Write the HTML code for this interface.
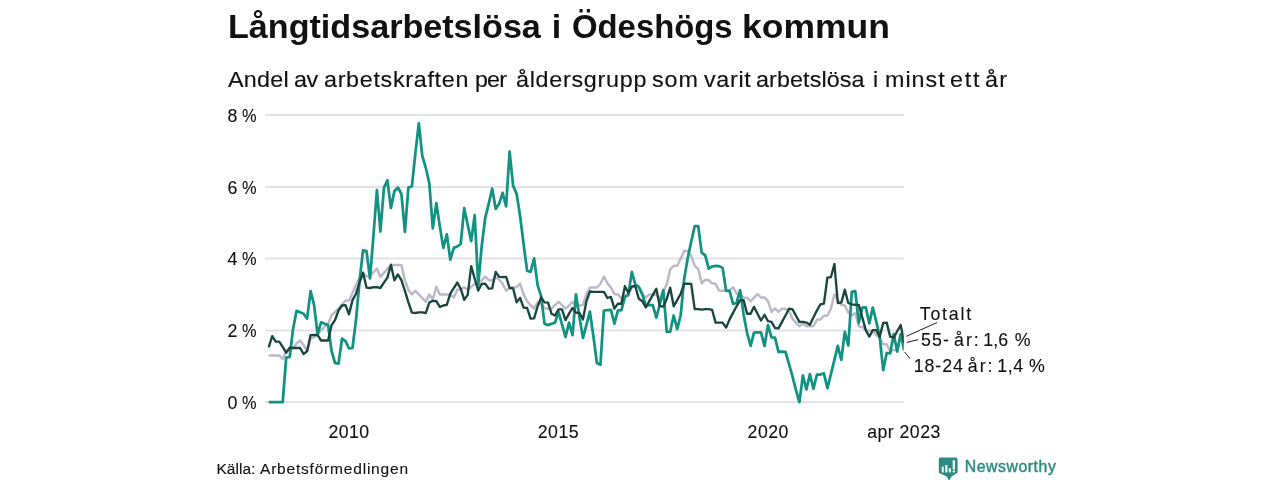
<!DOCTYPE html>
<html><head><meta charset="utf-8">
<style>
html,body{margin:0;padding:0;background:#fff;}
body{width:1280px;height:480px;position:relative;overflow:hidden;font-family:"Liberation Sans",sans-serif;color:#111;}
.t{position:absolute;white-space:nowrap;line-height:1;}
#txt{position:absolute;left:0;top:0;width:1280px;height:480px;will-change:transform;}
.ti{top:9px;font-size:34px;font-weight:bold;transform-origin:0 0;}
.su{top:69px;font-size:22px;transform:scaleX(1.06);transform-origin:0 0;-webkit-text-stroke:0.15px #111;}
.yl{font-size:17.8px;left:227.6px;-webkit-text-stroke:0.12px #111;}
.pc{display:inline-block;transform:scaleX(0.92);transform-origin:0 50%;margin-left:-0.6px;}
.xl{-webkit-text-stroke:0.12px #111;font-size:17.7px;letter-spacing:0.45px;transform:translateX(-50%);top:424px;}
.sr{top:461px;font-size:15.5px;-webkit-text-stroke:0.12px #111;}
.an{font-size:17.8px;-webkit-text-stroke:0.12px #111;}
svg{position:absolute;left:0;top:0;}
</style></head><body>
<svg width="1280" height="480" viewBox="0 0 1280 480">
<g stroke="#e3e2e8" stroke-width="2">
<line x1="265.2" x2="903.8" y1="115" y2="115"/>
<line x1="265.2" x2="903.8" y1="186.9" y2="186.9"/>
<line x1="265.2" x2="903.8" y1="258.6" y2="258.6"/>
<line x1="265.2" x2="903.8" y1="330.4" y2="330.4"/>
<line x1="265.2" x2="903.8" y1="402.1" y2="402.1"/>
</g>
<svg x="265" y="100" width="638.8" height="320" viewBox="265 100 638.8 320" overflow="hidden"><g fill="none" stroke-linejoin="round" stroke-linecap="butt">
<polyline stroke="#bdb9ca" stroke-width="2.5" points="268.7,355.5 272.2,355.5 275.7,355.5 279.2,355.5 282.7,359.1 286.2,351.2 289.7,350.2 293.1,347.7 296.6,343.7 300.1,340.5 303.6,345.2 307.1,351.2 310.6,338.4 314.1,337.3 317.6,334.1 321.1,330.5 324.6,326.9 328.1,323.7 331.6,315.5 335.0,311.9 338.5,308.7 342.0,304.4 345.5,300.5 349.0,300.5 352.5,293.0 356.0,285.1 359.5,277.9 363.0,273.3 366.5,276.2 370.0,276.2 373.5,271.9 376.9,268.7 380.4,276.9 383.9,272.9 387.4,268.7 390.9,265.4 394.4,265.1 397.9,265.1 401.4,265.1 404.9,280.4 408.4,289.7 411.9,294.4 415.4,290.8 418.8,294.4 422.3,298.0 425.8,301.9 429.3,294.4 432.8,299.4 436.3,286.9 439.8,294.4 443.3,294.4 446.8,294.4 450.3,294.8 453.8,297.6 457.3,289.4 460.7,289.7 464.2,287.2 467.7,289.4 471.2,286.9 474.7,283.7 478.2,284.0 481.7,280.4 485.2,276.5 488.7,280.1 492.2,280.4 495.7,276.9 499.2,279.7 502.6,283.7 506.1,290.8 509.6,288.0 513.1,287.2 516.6,287.2 520.1,283.7 523.6,294.4 527.1,301.2 530.6,305.1 534.1,308.7 537.6,302.3 541.1,303.7 544.5,308.3 548.0,308.7 551.5,308.7 555.0,305.1 558.5,301.9 562.0,305.1 565.5,308.7 569.0,305.5 572.5,301.9 576.0,305.5 579.5,305.5 583.0,305.1 586.4,294.4 589.9,287.6 593.4,287.6 596.9,287.6 600.4,284.0 603.9,276.5 607.4,283.3 610.9,287.6 614.4,294.0 617.9,294.4 621.4,298.3 624.9,294.8 628.3,294.8 631.8,287.6 635.3,285.1 638.8,287.6 642.3,294.4 645.8,297.6 649.3,294.4 652.8,294.4 656.3,294.8 659.8,298.3 663.3,291.2 666.8,284.4 670.2,269.4 673.7,265.8 677.2,265.8 680.7,258.6 684.2,251.1 687.7,251.1 691.2,255.8 694.7,265.8 698.2,269.0 701.7,283.3 705.2,279.7 708.7,280.1 712.1,283.3 715.6,283.7 719.1,290.8 722.6,290.8 726.1,290.8 729.6,290.1 733.1,287.2 736.6,293.7 740.1,294.0 743.6,297.6 747.1,298.0 750.6,301.2 754.0,297.6 757.5,294.0 761.0,297.6 764.5,297.6 768.0,301.2 771.5,311.9 775.0,308.3 778.5,311.9 782.0,308.7 785.5,308.7 789.0,310.8 792.5,318.7 795.9,322.6 799.4,326.2 802.9,323.4 806.4,326.2 809.9,326.2 813.4,326.2 816.9,319.8 820.4,319.4 823.9,315.8 827.4,315.5 830.9,308.7 834.4,294.4 837.8,300.1 841.3,304.8 844.8,305.5 848.3,312.6 851.8,315.5 855.3,313.0 858.8,326.2 862.3,326.9 865.8,330.5 869.3,330.5 872.8,331.2 876.3,334.8 879.7,338.0 883.2,344.1 886.7,344.4 890.2,351.2 893.7,349.8 897.2,350.9 900.7,334.1 904.2,344.8"/>
<polyline stroke="#129283" stroke-width="2.75" points="268.7,402.2 272.2,402.2 275.7,402.2 279.2,402.2 282.7,402.2 286.2,357.7 289.7,357.0 293.1,328.7 296.6,310.8 300.1,312.3 303.6,313.7 307.1,318.7 310.6,291.2 314.1,305.1 317.6,334.4 321.1,322.3 324.6,323.7 328.1,325.1 331.6,351.2 335.0,363.0 338.5,363.7 342.0,338.7 345.5,341.2 349.0,348.4 352.5,348.0 356.0,319.8 359.5,281.9 363.0,250.4 366.5,251.1 370.0,278.3 373.5,235.0 376.9,190.0 380.4,231.5 383.9,187.9 387.4,180.3 390.9,207.9 394.4,191.1 397.9,187.5 401.4,193.9 404.9,231.8 408.4,187.5 411.9,186.4 415.4,152.8 418.8,123.3 422.3,156.0 425.8,167.8 429.3,183.2 432.8,228.3 436.3,203.2 439.8,226.1 443.3,247.9 446.8,234.3 450.3,259.7 453.8,247.9 457.3,246.5 460.7,244.0 464.2,208.2 467.7,224.7 471.2,241.1 474.7,215.0 478.2,285.1 481.7,246.1 485.2,217.9 488.7,203.9 492.2,188.6 495.7,208.9 499.2,203.6 502.6,192.9 506.1,206.4 509.6,151.6 513.1,185.7 516.6,193.9 520.1,216.1 523.6,244.0 527.1,270.8 530.6,271.9 534.1,258.3 537.6,285.1 541.1,296.2 544.5,323.7 548.0,325.1 551.5,323.7 555.0,322.6 558.5,311.9 562.0,324.4 565.5,336.9 569.0,322.6 572.5,335.1 576.0,294.4 579.5,317.6 583.0,338.0 586.4,324.8 589.9,311.6 593.4,336.2 596.9,363.0 600.4,364.8 603.9,310.5 607.4,310.1 610.9,309.8 614.4,323.7 617.9,310.5 621.4,310.1 624.9,296.9 628.3,295.1 631.8,271.9 635.3,284.4 638.8,286.9 642.3,294.4 645.8,305.5 649.3,305.1 652.8,305.1 656.3,317.6 659.8,304.4 663.3,290.1 666.8,331.9 670.2,331.6 673.7,315.5 677.2,329.1 680.7,315.1 684.2,278.7 687.7,258.3 691.2,241.8 694.7,226.1 698.2,226.1 701.7,252.6 705.2,255.4 708.7,268.7 712.1,266.5 715.6,265.8 719.1,266.1 722.6,267.9 726.1,290.8 729.6,290.8 733.1,304.0 736.6,302.6 740.1,290.1 743.6,314.4 747.1,333.0 750.6,345.9 754.0,332.6 757.5,332.3 761.0,332.3 764.5,345.9 768.0,325.1 771.5,337.3 775.0,337.6 778.5,351.9 782.0,351.6 785.5,351.9 789.0,364.1 792.5,376.3 795.9,389.8 799.4,402.0 802.9,375.5 806.4,389.5 809.9,374.1 813.4,388.8 816.9,374.5 820.4,374.5 823.9,373.4 827.4,388.1 830.9,374.1 834.4,359.8 837.8,345.9 841.3,359.8 844.8,331.9 848.3,345.5 851.8,291.9 855.3,291.2 858.8,323.0 862.3,307.6 865.8,307.3 869.3,323.4 872.8,307.6 876.3,321.6 879.7,336.9 883.2,370.2 886.7,353.0 890.2,353.4 893.7,334.1 897.2,351.6 900.7,334.1 904.2,350.5"/>
<polyline stroke="#19463d" stroke-width="2.35" points="268.7,347.3 272.2,336.2 275.7,341.6 279.2,341.6 282.7,346.9 286.2,352.7 289.7,347.7 293.1,348.0 296.6,348.0 300.1,348.0 303.6,354.1 307.1,351.2 310.6,335.1 314.1,334.8 317.6,335.1 321.1,340.5 324.6,340.5 328.1,340.5 331.6,325.1 335.0,320.1 338.5,310.5 342.0,305.5 345.5,305.1 349.0,314.4 352.5,300.1 356.0,293.7 359.5,282.6 363.0,272.6 366.5,287.6 370.0,288.0 373.5,287.2 376.9,287.2 380.4,288.0 383.9,282.6 387.4,277.6 390.9,264.7 394.4,280.4 397.9,274.4 401.4,280.1 404.9,290.8 408.4,302.3 411.9,312.6 415.4,313.0 418.8,312.3 422.3,312.3 425.8,313.0 429.3,302.6 432.8,300.8 436.3,301.2 439.8,306.9 443.3,305.5 446.8,304.8 450.3,293.7 453.8,288.0 457.3,282.6 460.7,288.7 464.2,299.8 467.7,294.8 471.2,266.1 474.7,278.7 478.2,290.5 481.7,284.0 485.2,283.7 488.7,288.7 492.2,288.3 495.7,271.9 499.2,276.9 502.6,277.2 506.1,276.9 509.6,288.0 513.1,288.3 516.6,302.3 520.1,298.0 523.6,307.6 527.1,308.0 530.6,318.7 534.1,318.3 537.6,306.5 541.1,297.3 544.5,302.3 548.0,302.6 551.5,313.7 555.0,315.5 558.5,309.4 562.0,309.4 565.5,320.1 569.0,313.7 572.5,308.0 576.0,312.6 579.5,313.0 583.0,319.4 586.4,301.2 589.9,291.5 593.4,291.9 596.9,291.9 600.4,291.9 603.9,291.9 607.4,298.0 610.9,296.9 614.4,308.7 617.9,303.7 621.4,303.7 624.9,286.2 628.3,292.6 631.8,286.5 635.3,286.2 638.8,298.7 642.3,301.2 645.8,307.3 649.3,301.2 652.8,295.1 656.3,288.7 659.8,306.2 663.3,306.5 666.8,298.7 670.2,287.6 673.7,306.2 677.2,300.1 680.7,293.7 684.2,283.7 687.7,283.7 691.2,284.0 694.7,309.1 698.2,309.1 701.7,309.6 705.2,309.2 708.7,309.1 712.1,309.8 715.6,322.6 719.1,322.6 722.6,322.6 726.1,327.6 729.6,319.4 733.1,312.6 736.6,306.2 740.1,300.1 743.6,300.1 747.1,313.7 750.6,313.7 754.0,306.9 757.5,313.7 761.0,320.5 764.5,314.8 768.0,321.2 771.5,321.9 775.0,328.0 778.5,328.4 782.0,321.9 785.5,315.5 789.0,308.7 792.5,309.4 795.9,315.5 799.4,321.9 802.9,321.9 806.4,322.6 809.9,324.8 813.4,317.6 816.9,310.5 820.4,304.4 823.9,303.7 827.4,277.6 830.9,277.2 834.4,264.0 837.8,303.0 841.3,302.6 844.8,289.7 848.3,303.0 851.8,304.4 855.3,304.8 858.8,304.8 862.3,317.6 865.8,330.1 869.3,336.6 872.8,330.1 876.3,330.1 879.7,336.6 883.2,323.0 886.7,322.6 890.2,336.6 893.7,337.6 897.2,331.2 900.7,325.1 904.2,342.7"/>
</g></svg>
<g stroke="#222" stroke-width="1" fill="none">
<line x1="906.3" y1="336.3" x2="937" y2="322.6"/>
<line x1="906.7" y1="342.4" x2="918" y2="339.7"/>
<line x1="904.7" y1="352" x2="910" y2="358.8"/>
</g>
<g id="logo">
<path fill="#2e8b83" d="M940.8 457.4h14.8a2 2 0 0 1 2 2v12.3a2 2 0 0 1-1.3 1.9L951.5 476.4 949.1 480.8 946.6 476.4 940.1 473.6a2 2 0 0 1-1.3-1.9v-12.3a2 2 0 0 1 2-2z"/>
<g fill="#fff">
<rect x="941.8" y="466.6" width="1.9" height="5.8" rx="0.4"/>
<rect x="945.3" y="465.1" width="2.1" height="7.3" rx="0.4"/>
<rect x="948.8" y="468.3" width="2.1" height="4.1" rx="0.4"/>
<rect x="952.7" y="460.2" width="2.2" height="9.3" rx="0.4"/>
<rect x="952.7" y="470.4" width="2.2" height="2" rx="0.4"/>
</g>
</g>
</svg>
<div id="txt">
<span class="t ti" style="left:227.6px;transform:scaleX(1.0035)">Långtidsarbetslösa</span>
<span class="t ti" style="left:551.8px;transform:scaleX(1.0000)">i</span>
<span class="t ti" style="left:571.8px;transform:scaleX(0.9662)">Ödeshögs</span>
<span class="t ti" style="left:741.7px;transform:scaleX(1.0435)">kommun</span>
<span class="t su" style="left:227.7px;letter-spacing:0.24px">Andel</span>
<span class="t su" style="left:294.1px;letter-spacing:-0.40px">av</span>
<span class="t su" style="left:323.9px;letter-spacing:0.65px">arbetskraften</span>
<span class="t su" style="left:474.8px;letter-spacing:-0.83px">per</span>
<span class="t su" style="left:515.6px;letter-spacing:0.68px">åldersgrupp</span>
<span class="t su" style="left:651.7px;letter-spacing:0.83px">som</span>
<span class="t su" style="left:703.8px;letter-spacing:0.63px">varit</span>
<span class="t su" style="left:756.3px;letter-spacing:0.09px">arbetslösa</span>
<span class="t su" style="left:872.8px;letter-spacing:0.00px">i</span>
<span class="t su" style="left:884.7px;letter-spacing:0.94px">minst</span>
<span class="t su" style="left:950.2px;letter-spacing:1.71px">ett</span>
<span class="t su" style="left:984.9px;letter-spacing:1.15px">år</span>
<div class="t yl" style="top:108px">8 <span class="pc">%</span></div>
<div class="t yl" style="top:180px">6 <span class="pc">%</span></div>
<div class="t yl" style="top:251px">4 <span class="pc">%</span></div>
<div class="t yl" style="top:323px">2 <span class="pc">%</span></div>
<div class="t yl" style="top:395px">0 <span class="pc">%</span></div>
<div class="t xl" style="left:349px">2010</div>
<div class="t xl" style="left:558.4px">2015</div>
<div class="t xl" style="left:768.2px">2020</div>
<div class="t xl" style="left:904px">apr 2023</div>
<span class="t an" style="left:919.7px;top:305.8px;letter-spacing:1.82px">Totalt</span>
<span class="t an" style="left:921px;top:331.9px;letter-spacing:1.15px">55-</span>
<span class="t an" style="left:954px;top:331.9px;letter-spacing:2px">år:</span>
<span class="t an" style="left:983.2px;top:331.9px;letter-spacing:0.15px">1,6</span>
<span class="t an" style="left:1014.8px;top:331.9px">%</span>
<span class="t an" style="left:913.7px;top:358px;letter-spacing:0.95px">18-24</span>
<span class="t an" style="left:967.7px;top:358px;letter-spacing:2.05px">år:</span>
<span class="t an" style="left:997.3px;top:358px;letter-spacing:0.6px">1,4</span>
<span class="t an" style="left:1029px;top:358px">%</span>
<span class="t sr" style="left:216.4px;letter-spacing:0.04px">Källa:</span>
<span class="t sr" style="left:260px;letter-spacing:0.8px">Arbetsförmedlingen</span>
<div class="t" id="nw" style="left:964.8px;top:459px;font-size:15.8px;color:#2e8b83;-webkit-text-stroke:0.45px #2e8b83;letter-spacing:0.55px">Newsworthy</div>
</div>
</body></html>
